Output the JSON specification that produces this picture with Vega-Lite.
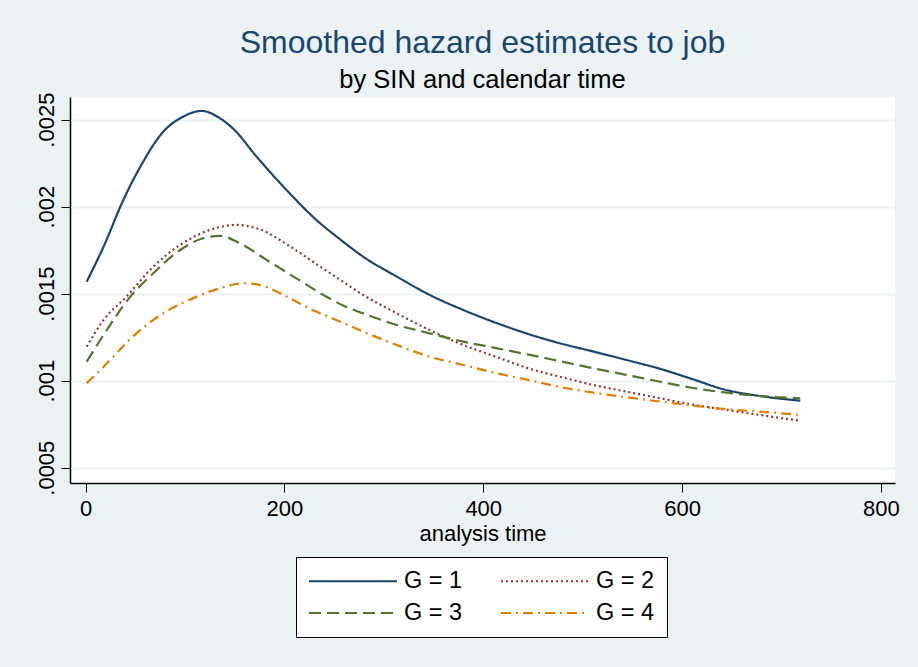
{
  "$schema": "https://vega.github.io/schema/vega-lite/v6.json",
  "width": 825,
  "height": 386,
  "autosize": {"type": "none"},
  "padding": {"left": 70, "top": 97, "right": 23, "bottom": 184},
  "background": "#EAF2F3",
  "config": {
    "font": "Liberation Sans",
    "view": {"fill": "white", "stroke": null}
  },
  "title": {
    "text": "Smoothed hazard estimates to job",
    "subtitle": "by SIN and calendar time",
    "anchor": "middle",
    "font": "Liberation Sans",
    "fontSize": 32,
    "fontWeight": "normal",
    "color": "#1a476f",
    "subtitleFont": "Liberation Sans",
    "subtitleFontSize": 25.5,
    "subtitleColor": "black",
    "subtitlePadding": 8,
    "offset": -2
  },
  "data": {
    "values": [
      {"t": 1, "h": 0.001569, "g": "G = 1"},
      {"t": 18, "h": 0.00177, "g": "G = 1"},
      {"t": 38, "h": 0.00204, "g": "G = 1"},
      {"t": 55, "h": 0.00223, "g": "G = 1"},
      {"t": 78, "h": 0.00243, "g": "G = 1"},
      {"t": 98, "h": 0.002517, "g": "G = 1"},
      {"t": 117, "h": 0.00255, "g": "G = 1"},
      {"t": 135, "h": 0.002508, "g": "G = 1"},
      {"t": 148, "h": 0.00245, "g": "G = 1"},
      {"t": 172, "h": 0.002287, "g": "G = 1"},
      {"t": 202, "h": 0.002096, "g": "G = 1"},
      {"t": 232, "h": 0.001924, "g": "G = 1"},
      {"t": 256, "h": 0.001812, "g": "G = 1"},
      {"t": 279, "h": 0.001713, "g": "G = 1"},
      {"t": 313, "h": 0.001598, "g": "G = 1"},
      {"t": 346, "h": 0.001493, "g": "G = 1"},
      {"t": 380, "h": 0.001406, "g": "G = 1"},
      {"t": 414, "h": 0.00133, "g": "G = 1"},
      {"t": 447, "h": 0.001265, "g": "G = 1"},
      {"t": 477, "h": 0.001215, "g": "G = 1"},
      {"t": 511, "h": 0.001167, "g": "G = 1"},
      {"t": 544, "h": 0.001119, "g": "G = 1"},
      {"t": 578, "h": 0.001068, "g": "G = 1"},
      {"t": 611, "h": 0.001008, "g": "G = 1"},
      {"t": 642, "h": 0.00095, "g": "G = 1"},
      {"t": 678, "h": 0.000912, "g": "G = 1"},
      {"t": 719, "h": 0.000885, "g": "G = 1"},

      {"t": 1, "h": 0.001195, "g": "G = 2"},
      {"t": 18, "h": 0.001349, "g": "G = 2"},
      {"t": 41, "h": 0.001483, "g": "G = 2"},
      {"t": 68, "h": 0.001655, "g": "G = 2"},
      {"t": 95, "h": 0.00178, "g": "G = 2"},
      {"t": 125, "h": 0.001866, "g": "G = 2"},
      {"t": 152, "h": 0.001895, "g": "G = 2"},
      {"t": 175, "h": 0.00187, "g": "G = 2"},
      {"t": 206, "h": 0.00177, "g": "G = 2"},
      {"t": 236, "h": 0.001655, "g": "G = 2"},
      {"t": 256, "h": 0.00158, "g": "G = 2"},
      {"t": 279, "h": 0.001493, "g": "G = 2"},
      {"t": 313, "h": 0.001387, "g": "G = 2"},
      {"t": 346, "h": 0.001291, "g": "G = 2"},
      {"t": 380, "h": 0.001205, "g": "G = 2"},
      {"t": 414, "h": 0.001135, "g": "G = 2"},
      {"t": 447, "h": 0.001068, "g": "G = 2"},
      {"t": 477, "h": 0.001023, "g": "G = 2"},
      {"t": 511, "h": 0.000975, "g": "G = 2"},
      {"t": 544, "h": 0.000937, "g": "G = 2"},
      {"t": 578, "h": 0.000899, "g": "G = 2"},
      {"t": 611, "h": 0.000862, "g": "G = 2"},
      {"t": 645, "h": 0.000832, "g": "G = 2"},
      {"t": 678, "h": 0.000803, "g": "G = 2"},
      {"t": 719, "h": 0.00077, "g": "G = 2"},

      {"t": 1, "h": 0.001109, "g": "G = 3"},
      {"t": 18, "h": 0.001263, "g": "G = 3"},
      {"t": 45, "h": 0.001483, "g": "G = 3"},
      {"t": 68, "h": 0.001617, "g": "G = 3"},
      {"t": 95, "h": 0.001751, "g": "G = 3"},
      {"t": 118, "h": 0.001818, "g": "G = 3"},
      {"t": 135, "h": 0.001832, "g": "G = 3"},
      {"t": 155, "h": 0.00179, "g": "G = 3"},
      {"t": 182, "h": 0.001694, "g": "G = 3"},
      {"t": 212, "h": 0.001588, "g": "G = 3"},
      {"t": 239, "h": 0.001493, "g": "G = 3"},
      {"t": 259, "h": 0.001432, "g": "G = 3"},
      {"t": 279, "h": 0.001387, "g": "G = 3"},
      {"t": 313, "h": 0.00132, "g": "G = 3"},
      {"t": 346, "h": 0.001272, "g": "G = 3"},
      {"t": 380, "h": 0.001224, "g": "G = 3"},
      {"t": 414, "h": 0.001186, "g": "G = 3"},
      {"t": 447, "h": 0.001148, "g": "G = 3"},
      {"t": 477, "h": 0.001112, "g": "G = 3"},
      {"t": 511, "h": 0.001071, "g": "G = 3"},
      {"t": 544, "h": 0.001033, "g": "G = 3"},
      {"t": 578, "h": 0.000994, "g": "G = 3"},
      {"t": 611, "h": 0.000958, "g": "G = 3"},
      {"t": 645, "h": 0.000931, "g": "G = 3"},
      {"t": 678, "h": 0.000912, "g": "G = 3"},
      {"t": 719, "h": 0.000899, "g": "G = 3"},

      {"t": 1, "h": 0.000985, "g": "G = 4"},
      {"t": 18, "h": 0.00108, "g": "G = 4"},
      {"t": 51, "h": 0.001272, "g": "G = 4"},
      {"t": 78, "h": 0.001387, "g": "G = 4"},
      {"t": 112, "h": 0.001483, "g": "G = 4"},
      {"t": 135, "h": 0.001531, "g": "G = 4"},
      {"t": 159, "h": 0.00156, "g": "G = 4"},
      {"t": 179, "h": 0.001544, "g": "G = 4"},
      {"t": 202, "h": 0.001483, "g": "G = 4"},
      {"t": 232, "h": 0.001397, "g": "G = 4"},
      {"t": 246, "h": 0.001364, "g": "G = 4"},
      {"t": 279, "h": 0.001282, "g": "G = 4"},
      {"t": 313, "h": 0.001205, "g": "G = 4"},
      {"t": 346, "h": 0.001138, "g": "G = 4"},
      {"t": 380, "h": 0.00109, "g": "G = 4"},
      {"t": 414, "h": 0.001042, "g": "G = 4"},
      {"t": 447, "h": 0.001002, "g": "G = 4"},
      {"t": 477, "h": 0.000964, "g": "G = 4"},
      {"t": 511, "h": 0.000931, "g": "G = 4"},
      {"t": 544, "h": 0.000905, "g": "G = 4"},
      {"t": 578, "h": 0.00088, "g": "G = 4"},
      {"t": 611, "h": 0.000857, "g": "G = 4"},
      {"t": 645, "h": 0.000836, "g": "G = 4"},
      {"t": 678, "h": 0.000822, "g": "G = 4"},
      {"t": 719, "h": 0.000803, "g": "G = 4"}
    ]
  },
  "mark": {"type": "line", "strokeWidth": 2.2, "interpolate": "monotone"},
  "encoding": {
    "x": {
      "field": "t",
      "type": "quantitative",
      "scale": {"domain": [-15.8, 814.3], "nice": false, "zero": false},
      "axis": {
        "title": "analysis time",
        "titleFontSize": 22,
        "titleFontWeight": "normal",
        "titleColor": "black",
        "titlePadding": 4,
        "values": [0, 200, 400, 600, 800],
        "format": "d",
        "labelFontSize": 22,
        "labelColor": "black",
        "labelPadding": 6,
        "tickSize": 9,
        "tickColor": "black",
        "tickWidth": 1,
        "domainColor": "black",
        "domainWidth": 1.5,
        "grid": false
      }
    },
    "y": {
      "field": "h",
      "type": "quantitative",
      "scale": {"domain": [0.000412, 0.00263], "nice": false, "zero": false},
      "axis": {
        "title": null,
        "values": [0.0005, 0.001, 0.0015, 0.002, 0.0025],
        "labelExpr": "substring(format(datum.value, '.4~f'), 1)",
        "labelAngle": -90,
        "labelAlign": "center",
        "labelBaseline": "alphabetic",
        "labelFontSize": 22,
        "labelColor": "black",
        "labelPadding": 8,
        "tickSize": 9,
        "tickColor": "black",
        "tickWidth": 1,
        "domainColor": "black",
        "domainWidth": 1.5,
        "grid": true,
        "gridColor": "#EAF2F3",
        "gridWidth": 2
      }
    },
    "color": {
      "field": "g",
      "type": "nominal",
      "scale": {
        "domain": ["G = 1", "G = 2", "G = 3", "G = 4"],
        "range": ["#1a476f", "#90353b", "#55752f", "#e37e00"]
      },
      "legend": {
        "title": null,
        "orient": "none",
        "legendX": 226,
        "legendY": 460,
        "direction": "horizontal",
        "columns": 2,
        "columnPadding": 34,
        "rowPadding": 8,
        "padding": 12,
        "fillColor": "white",
        "strokeColor": "black",
        "symbolType": "M-4,0H4",
        "symbolSize": 484,
        "symbolOffset": 33,
        "symbolStrokeWidth": 2,
        "labelFontSize": 23.5,
        "labelColor": "black",
        "labelOffset": 39
      }
    },
    "strokeDash": {
      "field": "g",
      "type": "nominal",
      "scale": {
        "domain": ["G = 1", "G = 2", "G = 3", "G = 4"],
        "range": [[1, 0], [2, 3], [12, 6], [10, 5, 2, 5]]
      },
      "legend": {
        "title": null,
        "orient": "none",
        "legendX": 226,
        "legendY": 460,
        "direction": "horizontal",
        "columns": 2,
        "columnPadding": 34,
        "rowPadding": 8,
        "padding": 12,
        "fillColor": "white",
        "strokeColor": "black",
        "symbolType": "M-4,0H4",
        "symbolSize": 484,
        "symbolOffset": 33,
        "symbolStrokeWidth": 2,
        "labelFontSize": 23.5,
        "labelColor": "black",
        "labelOffset": 39
      }
    }
  }
}
